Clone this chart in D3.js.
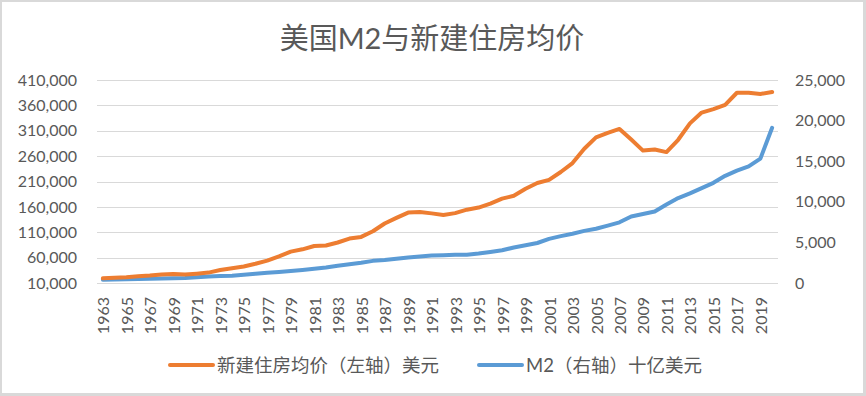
<!DOCTYPE html>
<html>
<head>
<meta charset="utf-8">
<script src="https://cdn.jsdelivr.net/npm/d3@7/dist/d3.min.js"></script>
<style>
  body { margin: 0; background: #fff; }
  text { font-family: Lato, 'Noto Sans CJK SC', sans-serif; fill: #595959; }
</style>
</head>
<body>
<svg id="chart"></svg>
<script>
// data
const years = d3.range(1963, 2021).map(String);
const housePrice = [
  19300, 20500, 21500, 23300, 24600, 26600, 27900, 26600, 28300, 30500,
  35500, 38900, 42600, 48000, 54200, 62500, 71800, 76400, 83000, 83900,
  89800, 97600, 100800, 111900, 127200, 138300, 148800, 149800, 147200, 144100,
  147700, 154500, 158700, 166400, 176200, 181900, 195600, 207000, 213200, 228700,
  246300, 274500, 297000, 305900, 313600, 292600, 270900, 272900, 267900, 292200,
  324500, 345800, 352700, 360900, 384900, 385000, 382500, 386500
];
const m2 = [
  393, 425, 459, 480, 525, 567, 588, 627, 710, 802,
  856, 902, 1016, 1152, 1270, 1366, 1474, 1600, 1756, 1906,
  2124, 2306, 2492, 2728, 2826, 2988, 3153, 3272, 3372, 3425,
  3475, 3486, 3630, 3819, 4033, 4375, 4638, 4925, 5434, 5772,
  6067, 6418, 6682, 7072, 7472, 8192, 8496, 8802, 9660, 10460,
  11035, 11685, 12336, 13202, 13837, 14363, 15316, 19120
];
const leftTicks = d3.range(10000, 410001, 50000);
const rightTicks = d3.range(0, 25001, 5000);
const xLabels = years.filter((d, i) => i % 2 === 0);
const titleText = '美国M2与新建住房均价';
const seriesNames = ['新建住房均价（左轴）美元', 'M2（右轴）十亿美元'];

// layout
const width = 866;
const height = 396;
const plot = {left: 97, right: 778, top: 80, bottom: 283};
const colors = ['#ED7D31', '#5B9BD5'];

const svg = d3.select('#chart')
    .attr('width', width)
    .attr('height', height);

// frame
svg.append('rect')
    .attr('x', 0).attr('y', 0)
    .attr('width', width).attr('height', height)
    .attr('fill', '#d9d9d9');
svg.append('rect')
    .attr('x', 2).attr('y', 2)
    .attr('width', width - 5).attr('height', height - 5)
    .attr('fill', '#fff');

// title
svg.append('text')
    .attr('x', 432)
    .attr('y', 37)
    .attr('text-anchor', 'middle')
    .attr('dominant-baseline', 'central')
    .style('font-size', '29px')
    .text(titleText);

// scales
const x = d3.scaleBand()
    .domain(years)
    .range([plot.left, plot.right]);
const yLeft = d3.scaleLinear()
    .domain([10000, 410000])
    .range([plot.bottom, plot.top]);
const yRight = d3.scaleLinear()
    .domain([0, 25000])
    .range([plot.bottom, plot.top]);
const cx = d => x(d) + x.bandwidth() / 2;

// gridlines
svg.append('g')
    .selectAll('line')
    .data(leftTicks)
    .enter()
    .append('line')
    .attr('x1', plot.left)
    .attr('x2', plot.right)
    .attr('y1', d => Math.round(yLeft(d)) + 0.5)
    .attr('y2', d => Math.round(yLeft(d)) + 0.5)
    .attr('stroke', '#d9d9d9')
    .attr('stroke-width', 1);

// left axis
const leftAxis = svg.append('g')
    .attr('transform', 'translate(' + 77 + ',0)')
    .call(d3.axisLeft(yLeft).tickValues(leftTicks).tickSize(0).tickPadding(0).tickFormat(d3.format(',')));
leftAxis.select('.domain').remove();
leftAxis.selectAll('text').style('font-size', '16px').attr('fill', '#595959');

// right axis
const rightAxis = svg.append('g')
    .attr('transform', 'translate(' + 795 + ',0)')
    .call(d3.axisRight(yRight).tickValues(rightTicks).tickSize(0).tickPadding(0).tickFormat(d3.format(',')));
rightAxis.select('.domain').remove();
rightAxis.selectAll('text').style('font-size', '16px').attr('fill', '#595959');

// x labels
svg.append('g')
    .selectAll('text')
    .data(xLabels)
    .enter()
    .append('text')
    .attr('transform', d => 'translate(' + cx(d) + ',' + 297 + ')rotate(-90)')
    .attr('text-anchor', 'end')
    .attr('dominant-baseline', 'central')
    .style('font-size', '16px')
    .text(d => d);

// lines
const lineLeft = d3.line()
    .x((d, i) => cx(years[i]))
    .y(d => yLeft(d));
const lineRight = d3.line()
    .x((d, i) => cx(years[i]))
    .y(d => yRight(d));

svg.append('path')
    .datum(m2)
    .attr('d', lineRight)
    .attr('fill', 'none')
    .attr('stroke', colors[1])
    .attr('stroke-width', 4)
    .attr('stroke-linejoin', 'round')
    .attr('stroke-linecap', 'round');

svg.append('path')
    .datum(housePrice)
    .attr('d', lineLeft)
    .attr('fill', 'none')
    .attr('stroke', colors[0])
    .attr('stroke-width', 4)
    .attr('stroke-linejoin', 'round')
    .attr('stroke-linecap', 'round');

// legend
const legendPos = [170, 479];
const legend = svg.append('g')
    .selectAll('g')
    .data(seriesNames)
    .enter()
    .append('g')
    .attr('transform', (d, i) => 'translate(' + legendPos[i] + ',' + 365 + ')');
legend.append('line')
    .attr('x1', 0).attr('x2', 43)
    .attr('y1', 0).attr('y2', 0)
    .attr('stroke', (d, i) => colors[i])
    .attr('stroke-width', 4)
    .attr('stroke-linecap', 'round');
legend.append('text')
    .attr('x', 47)
    .attr('y', 0)
    .attr('dominant-baseline', 'central')
    .style('font-size', '18.5px')
    .text(d => d);
</script>
</body>
</html>
